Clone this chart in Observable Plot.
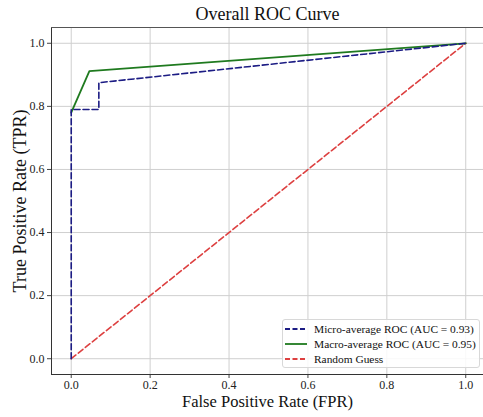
<!DOCTYPE html>
<html>
<head>
<meta charset="utf-8">
<script src="https://cdn.jsdelivr.net/npm/d3@7"></script>
<script src="https://cdn.jsdelivr.net/npm/@observablehq/plot@0.6"></script>
<style>
  html, body { margin: 0; padding: 0; background: #fff; }
  #wrap { position: relative; width: 483px; height: 417px; overflow: hidden; font-family: "Liberation Serif", "DejaVu Serif", serif; }
  #title { height: 22px; line-height: 28px; text-align: center; font-size: 18px; color: #111; padding-left: 52px; box-sizing: border-box; white-space: nowrap; }
  #legend { position: absolute; left: 282px; top: 319px; width: 198px; height: 49px; border: 1px solid #d8d8d8; border-radius: 3px; background: rgba(255,255,255,0.85); box-sizing: border-box; font-size: 11.4px; color: #111; }
  .row { position: absolute; left: 2px; height: 15px; display: flex; align-items: center; white-space: nowrap; }
  .row svg { margin-right: 7px; }
</style>
</head>
<body>
<div id="wrap">
  <div id="title">Overall ROC Curve</div>
  <div id="chart"></div>
  <div id="legend"></div>
</div>
<script>
const microFpr = [0, 0, 0.07, 0.07, 1];
const microTpr = [0, 0.79, 0.79, 0.875, 1];
const macroFpr = [0, 0.046, 1];
const macroTpr = [0.78, 0.912, 1];
const randomFpr = [0, 1];
const randomTpr = [0, 1];
const ticks = [0, 0.2, 0.4, 0.6, 0.8, 1.0];
const seriesNames = ["Micro-average ROC (AUC = 0.93)", "Macro-average ROC (AUC = 0.95)", "Random Guess"];
const seriesColors = ["#1c1c84", "#1f7a1f", "#dd4040"];
const seriesDash = ["6,3", null, "6,3"];

const micro = microFpr.map((x, i) => ({x, y: microTpr[i]}));
const macro = macroFpr.map((x, i) => ({x, y: macroTpr[i]}));
const rnd = randomFpr.map((x, i) => ({x, y: randomTpr[i]}));

const fmt = d3.format(".1f");
const plot = Plot.plot({
  width: 483,
  height: 395,
  marginLeft: 51,
  marginRight: 0,
  marginTop: 5,
  marginBottom: 43,
  style: { fontFamily: "'Liberation Serif', serif", fontSize: "12px", color: "#222", background: "transparent" },
  x: { domain: [-0.05, 1.045] },
  y: { domain: [-0.05, 1.05] },
  marks: [
    Plot.gridX(ticks, { stroke: "#cfcfcf", strokeOpacity: 1, strokeWidth: 1 }),
    Plot.gridY(ticks, { stroke: "#cfcfcf", strokeOpacity: 1, strokeWidth: 1 }),
    Plot.line(rnd, { x: "x", y: "y", stroke: seriesColors[2], strokeWidth: 1.6, strokeDasharray: seriesDash[2] }),
    Plot.line(macro, { x: "x", y: "y", stroke: seriesColors[1], strokeWidth: 1.8 }),
    Plot.line(micro, { x: "x", y: "y", stroke: seriesColors[0], strokeWidth: 1.6, strokeDasharray: seriesDash[0] }),
    Plot.axisX(ticks, { tickSize: 4, tickPadding: 2, tickFormat: fmt, fontSize: 12, stroke: "#444", fill: "#222", label: null }),
    Plot.axisY(ticks, { tickSize: 4, tickPadding: 3, tickFormat: fmt, fontSize: 12, stroke: "#444", fill: "#222", label: null }),
    Plot.frame({ anchor: "left", stroke: "#333" }),
    Plot.frame({ anchor: "bottom", stroke: "#333" }),
    Plot.frame({ anchor: "top", stroke: "#555" }),
    Plot.text(["False Positive Rate (FPR)"], { frameAnchor: "bottom", dy: 32, fontSize: 16.5, fill: "#111" }),
    Plot.text(["True Positive Rate (TPR)"], { frameAnchor: "left", textAnchor: "middle", dx: -31, rotate: -90, fontSize: 18, fill: "#111" })
  ]
});
document.getElementById("chart").appendChild(plot);

const legend = document.getElementById("legend");
seriesNames.forEach((name, i) => {
  const row = document.createElement("div");
  row.className = "row";
  row.style.top = (1 + i * 15) + "px";
  const dash = seriesDash[i] ? `stroke-dasharray="5,2.5"` : "";
  row.innerHTML = `<svg width="22" height="6"><line x1="0" y1="3" x2="22" y2="3" stroke="${seriesColors[i]}" stroke-width="1.8" ${dash}/></svg><span>${name}</span>`;
  legend.appendChild(row);
});
</script>
</body>
</html>
